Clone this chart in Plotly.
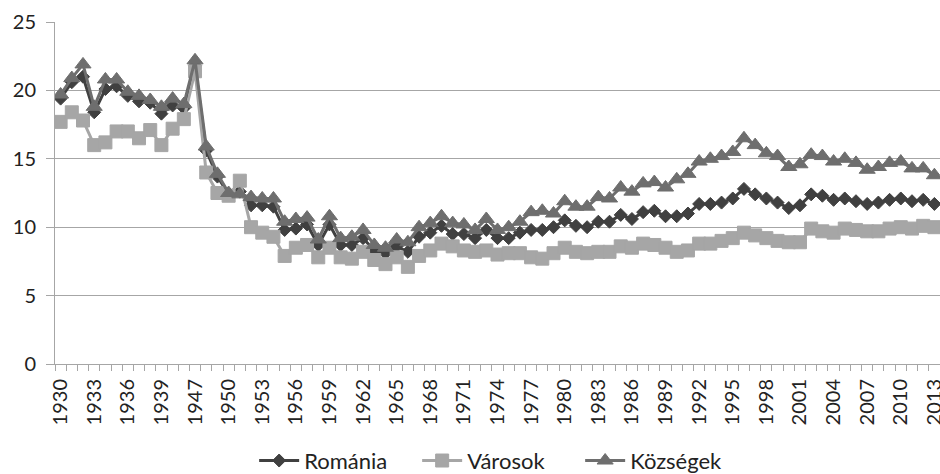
import plotly.graph_objects as go

# Crude death rate (per 1000 inhabitants), Romania, by residence area
years = (
    ["1930", "1931", "1932", "1933", "1934", "1935", "1936", "1937", "1938", "1939",
     "1940", "1946"]
    + [str(y) for y in range(1947, 2014)]
)

romania = [
    19.4, 20.6, 21.0, 18.4, 20.1, 20.3, 19.6, 19.2, 19.1, 18.3, 18.9, 18.7, 21.8,
    15.6, 13.7, 12.4, 12.6, 11.6, 11.6, 11.5, 9.8, 9.9, 10.2, 8.7, 10.2,
    8.7, 8.7, 9.2, 8.3, 8.1, 8.6, 8.2, 9.3, 9.6, 10.1,
    9.5, 9.5, 9.2, 9.8, 9.2, 9.2, 9.6, 9.8, 9.8, 10.0,
    10.5, 10.1, 10.0, 10.4, 10.4, 10.9, 10.6, 11.1, 11.2, 10.8,
    10.8, 11.0, 11.7, 11.7, 11.8, 12.1, 12.8, 12.4, 12.1, 11.8,
    11.4, 11.6, 12.4, 12.3, 12.0, 12.1, 11.9, 11.7, 11.8, 12.0,
    12.1, 11.9, 12.0, 11.7,
]

varosok = [
    17.7, 18.4, 17.8, 16.0, 16.2, 17.0, 17.0, 16.5, 17.1, 16.0, 17.2, 17.9, 21.4,
    14.0, 12.5, 12.3, 13.4, 10.0, 9.6, 9.3, 7.9, 8.5, 8.7, 7.8, 8.5,
    7.8, 7.7, 8.2, 7.6, 7.3, 7.8, 7.1, 7.9, 8.3, 8.8,
    8.6, 8.3, 8.2, 8.3, 8.0, 8.1, 8.1, 7.8, 7.7, 8.1,
    8.5, 8.2, 8.1, 8.2, 8.2, 8.6, 8.5, 8.8, 8.7, 8.5,
    8.2, 8.3, 8.8, 8.8, 9.0, 9.2, 9.6, 9.4, 9.2, 9.0,
    8.9, 8.9, 9.9, 9.7, 9.6, 9.9, 9.8, 9.7, 9.7, 9.9,
    10.0, 9.9, 10.1, 10.0,
]

kozsegek = [
    19.7, 20.9, 21.9, 18.8, 20.8, 20.8, 19.9, 19.6, 19.3, 18.8, 19.4, 19.0, 22.2,
    15.9, 13.9, 12.5, 12.4, 12.2, 12.1, 12.1, 10.4, 10.6, 10.7, 9.1, 10.8,
    9.2, 9.3, 9.8, 8.7, 8.5, 9.1, 8.9, 10.0, 10.3, 10.8,
    10.3, 10.2, 9.8, 10.6, 9.8, 10.0, 10.4, 11.1, 11.2, 11.0,
    11.9, 11.5, 11.5, 12.2, 12.1, 12.9, 12.6, 13.2, 13.3, 12.9,
    13.5, 13.9, 14.8, 15.0, 15.2, 15.5, 16.5, 16.0, 15.4, 15.2,
    14.4, 14.6, 15.3, 15.2, 14.8, 15.0, 14.7, 14.2, 14.4, 14.7,
    14.8, 14.3, 14.3, 13.8,
]

y_ticks = [0, 5, 10, 15, 20, 25]

pos = list(range(len(years)))
label_pos = pos[::3]
label_txt = years[::3]

FONT = "Lato, 'Open Sans', sans-serif"
AXIS_GREY = "#a6a6a6"

series = [
    ("Románia", romania, "#404040", "diamond", 10),
    ("Városok", varosok, "#a6a6a6", "square", 13),
    ("Községek", kozsegek, "#6e6e6e", "triangle-up", 14),
]

fig = go.Figure()
for name, vals, color, symbol, size in series:
    fig.add_trace(go.Scatter(
        x=pos, y=vals, name=name, mode="lines+markers",
        customdata=years,
        hovertemplate="%{customdata}: %{y}<extra>" + name + "</extra>",
        line=dict(color=color, width=3),
        marker=dict(symbol=symbol, size=size, color=color,
                    line=dict(color=color, width=1)),
    ))

# the page is a little wider than the viewport so the last year label runs off the edge
fig.update_layout(
    width=948, height=474,
    margin=dict(l=55, r=8, t=22, b=110, autoexpand=False),
    paper_bgcolor="white", plot_bgcolor="white",
    font=dict(family=FONT, size=20, color="#222222"),
    showlegend=True,
    legend=dict(orientation="h", xref="container", x=0.526, xanchor="center",
                yref="container", y=0.028, yanchor="middle",
                font=dict(size=22), itemwidth=40, entrywidth=108,
                traceorder="normal"),
)

fig.update_xaxes(
    range=[-0.5, len(years) - 0.5], automargin=False,
    tickmode="array", tickvals=label_pos, ticktext=label_txt,
    tickangle=-90, ticks="", showgrid=False, zeroline=False,
    showline=True, linecolor=AXIS_GREY, linewidth=1,
    ticklabelstandoff=6, tickfont=dict(size=20),
    minor=dict(tick0=-0.5, dtick=1, ticks="outside", ticklen=6,
               tickcolor=AXIS_GREY, showgrid=False),
)

fig.update_yaxes(
    range=[0, 25], tickmode="array", tickvals=y_ticks, automargin=False,
    showgrid=True, gridcolor=AXIS_GREY, gridwidth=1,
    zeroline=False, showline=True, linecolor=AXIS_GREY, linewidth=1,
    ticks="outside", ticklen=8, tickcolor=AXIS_GREY,
    ticklabelstandoff=6, tickfont=dict(size=20),
)

fig.write_html("out.html")
